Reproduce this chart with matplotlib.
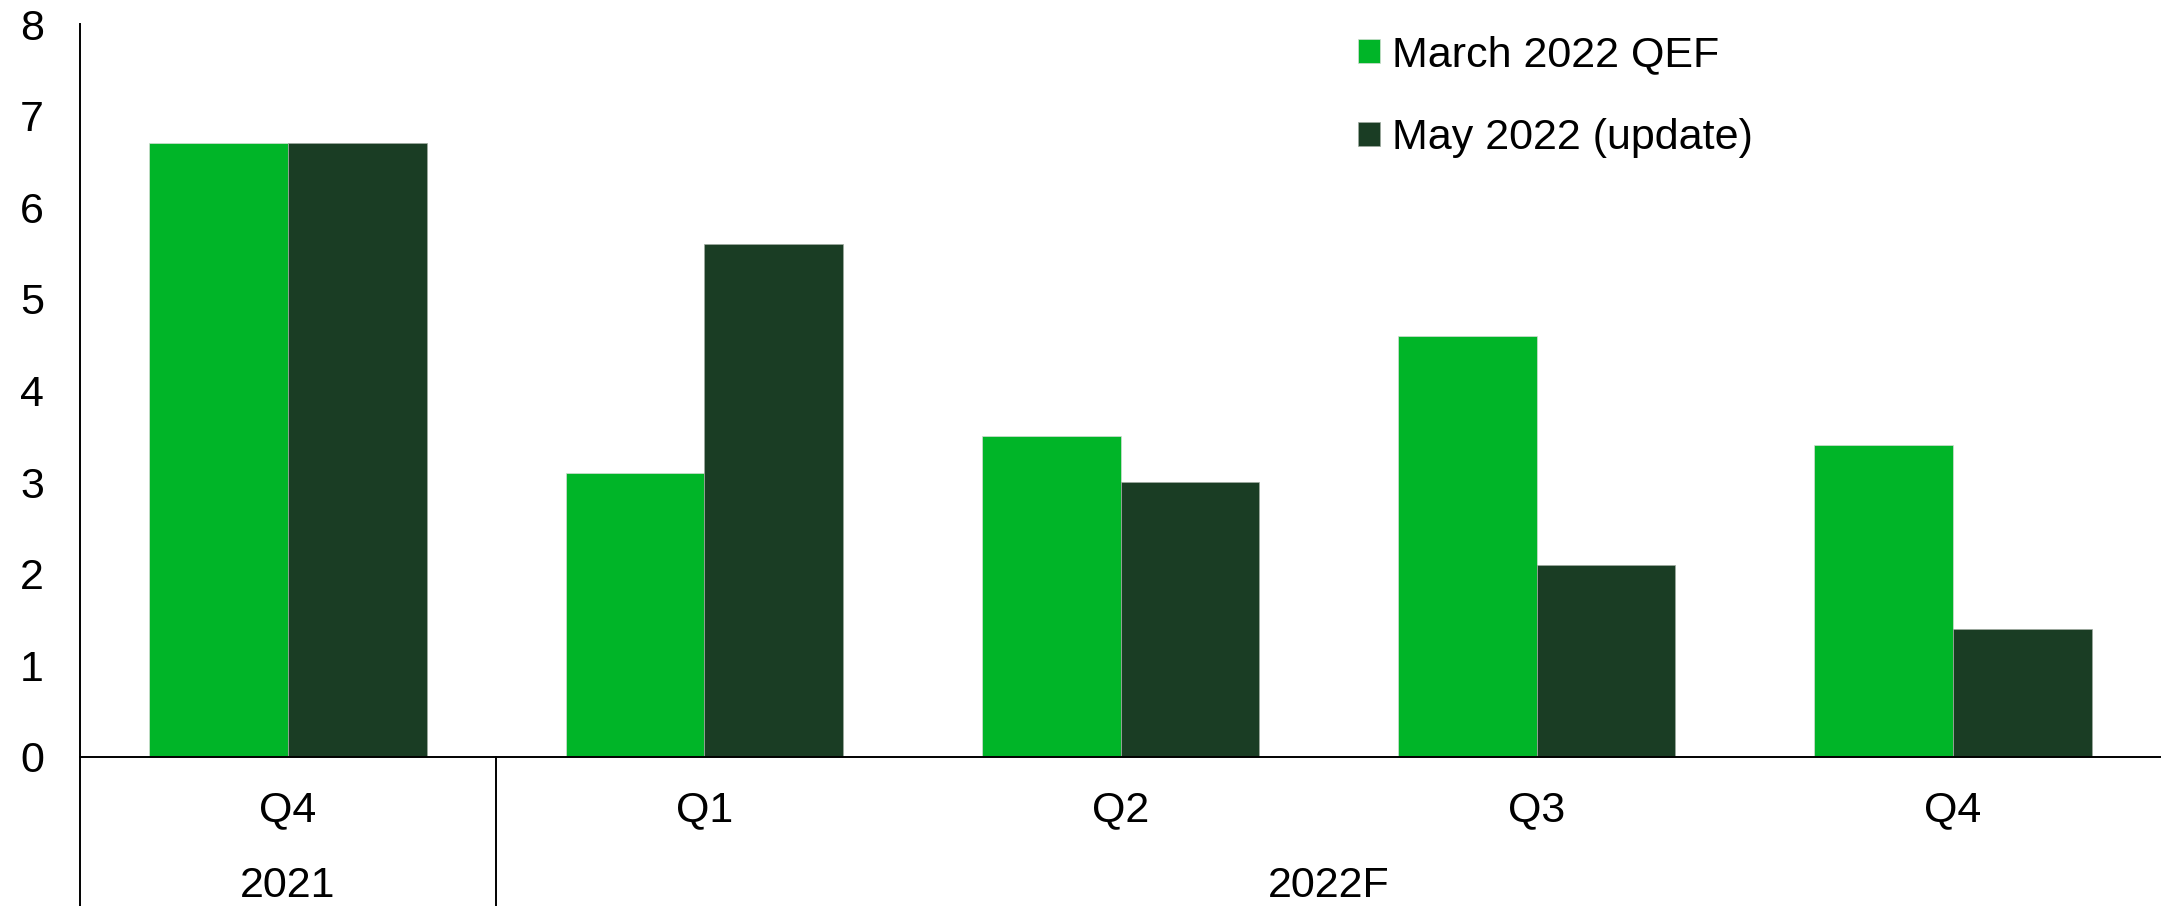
import matplotlib.pyplot as plt
import numpy as np
from matplotlib.lines import Line2D
from matplotlib.transforms import blended_transform_factory

# datos
trimestres = ['Q4', 'Q1', 'Q2', 'Q3', 'Q4']
anios = ['2021', '2022F']
anio_grupo = [0, 1, 1, 1, 1]  # a que anio pertenece cada trimestre
marzo_qef = [6.7, 3.1, 3.5, 4.6, 3.4]
mayo_update = [6.7, 5.6, 3.0, 2.1, 1.4]
series = ['March 2022 QEF', 'May 2022 (update)']

verde = '#00B528'
verde_oscuro = '#1A3D24'

plt.rcParams['font.family'] = ['Liberation Sans', 'DejaVu Sans']
fs = 31

fig = plt.figure(figsize=(21.61, 9.06), dpi=100)
ax = fig.add_axes([80 / 2161, 1 - 757 / 906, 1 - 80 / 2161, (757 - 24) / 906])

x = np.arange(len(trimestres))
ancho = 1 / 3
ax.bar(x - ancho / 2, marzo_qef, ancho, color=verde, edgecolor='#d5dcd5', linewidth=0.5, label=series[0])
ax.bar(x + ancho / 2, mayo_update, ancho, color=verde_oscuro, edgecolor='#a0aaa0', linewidth=0.5, label=series[1])

ax.set_xlim(-0.5, len(trimestres) - 0.5)
ax.set_ylim(0, 8)
ax.set_yticks(range(0, 9))
ax.tick_params(axis='y', length=0, pad=26, labelsize=fs)
ax.set_xticks([])

for lado in ['top', 'right']:
    ax.spines[lado].set_visible(False)
ax.spines['left'].set_linewidth(1.4)
ax.spines['bottom'].set_linewidth(1.4)

# etiquetas de dos niveles abajo (estilo excel)
tr = blended_transform_factory(ax.transData, fig.transFigure)
for i, t in enumerate(trimestres):
    ax.text(i, 1 - 821 / 906, t, transform=tr, ha='center', va='baseline', fontsize=fs)

y0 = 1 - 757 / 906
grupos = np.array(anio_grupo)
for g, a in enumerate(anios):
    idx = x[grupos == g]
    ax.text(idx.mean(), 1 - 897 / 906, a, transform=tr, ha='center', va='baseline', fontsize=fs)
    # separador a la izquierda de cada grupo
    xv = idx.min() - 0.5
    fig.add_artist(Line2D([xv, xv], [y0, 0], transform=tr, color='black', linewidth=1.4))

fig.legend(loc='upper left', bbox_to_anchor=(1358 / 2161, 0.961), frameon=False,
           fontsize=fs, handlelength=0.5, handleheight=0.5, handletextpad=0.3,
           labelspacing=1.0, borderpad=0, borderaxespad=0)

plt.savefig('out.png', dpi=100)
